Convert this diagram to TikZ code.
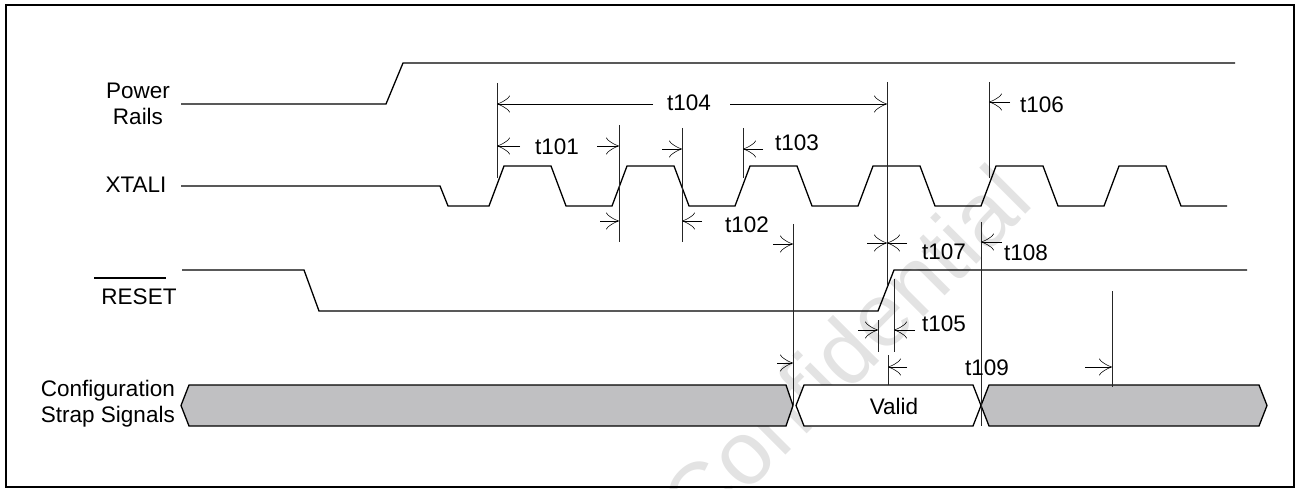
\documentclass[tikz,border=0pt]{standalone}
\usepackage{fontspec}
\setmainfont{Liberation Sans}
\usetikzlibrary{arrows.meta}
\definecolor{busgray}{RGB}{192,192,194}
\begin{document}
\begin{tikzpicture}[x=1pt,y=-1pt,
  wave/.style={line width=1.3pt, line join=miter},
  mk/.style={line width=0.9pt, draw=black!85},
  tarr/.style={line width=0.7pt, -{Classical TikZ Rightarrow[length=13pt,width=17pt]}},
  lbl/.style={font=\fontsize{22.5}{26}\selectfont, inner sep=0pt},
  sig/.style={font=\fontsize{22.5}{26}\selectfont, inner sep=0pt, align=center},
  bus/.style={line width=1.3pt, line join=miter}
]
\useasboundingbox (0,0) rectangle (1296,489);
% watermark
\node[rotate=45, text=black!11, font=\fontsize{90}{90}\selectfont, inner sep=0pt] (wm) at (845,350) {Confidential};
% frame
\draw[line width=2pt] (6,5) rectangle (1294,487);

% signal names
\node[sig] (pwr) at (138,104) {Power\\Rails};
\node[sig] (xtl) at (136,185) {XTALI};
\node[sig] (rst) at (139,297) {RESET};
\draw[line width=1.3pt] (94,278) -- (166,278);
\node[sig, align=right, anchor=east] (cfg) at (175,404) {Configuration\\Strap Signals};

% Power rails
\draw[wave] (181,104) -- (386,104) -- (403,63) -- (1235,63);
% XTALI
\draw[wave] (181,186) -- (440,186) -- (448,206) -- (489,206)
  \foreach \r in {489,612,735,858,981,1104} { -- (\r+15,166) -- (\r+62,166) -- (\r+77,206) -- (\r+123,206) };
% RESET
\draw[wave] (182,270) -- (304,270) -- (319,311) -- (878,311) -- (894,270) -- (1247,270);
% Configuration strap bus
\draw[bus, fill=busgray] (181,405.5) -- (189,385) -- (786,385) -- (793,405.5) -- (786,426) -- (189,426) -- cycle;
\draw[bus, fill=white] (796,405.5) -- (804,385) -- (973,385) -- (981,405.5) -- (973,426) -- (804,426) -- cycle;
\draw[bus, fill=busgray] (981,405.5) -- (989,385) -- (1259,385) -- (1267,405.5) -- (1259,426) -- (989,426) -- cycle;
\node[lbl] (valid) at (894,406) {Valid};

% marker lines
\coordinate (a1) at (497,83);  \coordinate (a2) at (497,178);
\coordinate (b1) at (619,125); \coordinate (b2) at (619,242);
\coordinate (c1) at (682,128); \coordinate (c2) at (682,242);
\coordinate (d1) at (743,128); \coordinate (d2) at (743,178);
\coordinate (e1) at (793,224); \coordinate (e2) at (793,405);
\coordinate (f1) at (887,82);  \coordinate (f2) at (887,285);
\coordinate (g1) at (989,82);  \coordinate (g2) at (989,178);
\coordinate (h1) at (981,222); \coordinate (h2) at (981,426);
\coordinate (i1) at (878,320); \coordinate (i2) at (878,352);
\coordinate (j1) at (894,279); \coordinate (j2) at (894,352);
\coordinate (k1) at (888,355); \coordinate (k2) at (888,385);
\coordinate (l1) at (1112,291); \coordinate (l2) at (1112,387);
\foreach \m in {a,b,c,d,e,f,g,h,i,j,k,l} { \draw[mk] (\m1) -- (\m2); }

% arrows
\draw[tarr] (653,104) -- (497,104);
\draw[tarr] (730,104) -- (887,104);
\draw[tarr] (520,146) -- (497,146);
\draw[tarr] (597,146) -- (619,146);
\draw[tarr] (662,149) -- (682,149);
\draw[tarr] (763,149) -- (743,149);
\draw[tarr] (600,221) -- (619,221);
\draw[tarr] (702,221) -- (682,221);
\draw[tarr] (773,244) -- (793,244);
\draw[tarr] (867,243) -- (887,243);
\draw[tarr] (907,243) -- (887,243);
\draw[tarr] (1002,242) -- (981,242);
\draw[tarr] (1010,102) -- (989,102);
\draw[tarr] (858,330) -- (878,330);
\draw[tarr] (915,330) -- (894,330);
\draw[tarr] (907,367) -- (888,367);
\draw[tarr] (777,363) -- (793,363);
\draw[tarr] (1085,367) -- (1112,367);

% timing labels
\node[lbl] (t104) at (689,103) {t104};
\node[lbl] (t101) at (557,147) {t101};
\node[lbl] (t103) at (797,143) {t103};
\node[lbl] (t102) at (747,225) {t102};
\node[lbl] (t106) at (1042,105) {t106};
\node[lbl] (t107) at (944,252) {t107};
\node[lbl] (t108) at (1026,253) {t108};
\node[lbl] (t105) at (944,324) {t105};
\node[lbl] (t109) at (987,368) {t109};
\end{tikzpicture}
\end{document}
